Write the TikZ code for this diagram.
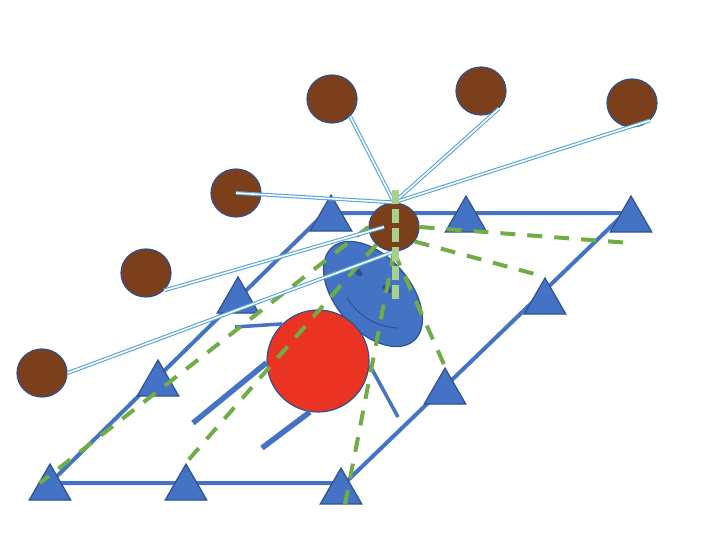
\documentclass[tikz,border=0pt]{standalone}
\usetikzlibrary{shapes.geometric}
\definecolor{brownball}{HTML}{7B3F1C}
\definecolor{officeblue}{HTML}{4472C4}
\definecolor{darkblue}{HTML}{2F528F}
\definecolor{bodyred}{HTML}{EB3323}
\definecolor{dashgreen}{HTML}{70AD47}
\definecolor{palegreen}{HTML}{A9D18E}
\definecolor{wireblue}{HTML}{56A5DD}
\begin{document}
\begin{tikzpicture}
	[x=1pt,y=-1pt,
	tri/.style={regular polygon,regular polygon sides=3,minimum size=48pt,inner sep=0pt,fill=officeblue,draw=darkblue,line width=1.2pt},
	ball/.style={ellipse,minimum width=50pt,minimum height=48pt,inner sep=0pt,fill=brownball,draw=darkblue,line width=1.2pt},
	eye/.style={ellipse,minimum width=11pt,minimum height=6pt,inner sep=0pt,fill=darkblue,rotate=-40},
	edgeline/.style={officeblue,line width=4pt},
	limb/.style={officeblue,line width=5.5pt},
	thinlimb/.style={officeblue,line width=3.5pt},
	trail/.style={dashgreen,line width=4pt,dash pattern=on 15pt off 12pt},
	stake/.style={palegreen,line width=7pt,dash pattern=on 14pt off 5pt},
	wire/.style={draw=wireblue,double=white,double distance=1.6pt,line width=1.1pt}]
	\useasboundingbox (0,0) rectangle (706,538);
	\coordinate (bl) at (50,483);
	\coordinate (br) at (345,483);
	\coordinate (tr) at (625,213);
	\coordinate (tl) at (325,213);
	\draw[edgeline] (bl) -- (br) -- (tr) -- (tl) -- cycle;
	\node[tri] (t1) at (50,488) {};
	\node[tri] (t2) at (186,488) {};
	\node[tri] (t3) at (341,492) {};
	\node[tri] (t4) at (158,384) {};
	\node[tri] (t5) at (238,301) {};
	\node[tri] (t6) at (331,219) {};
	\node[tri] (t7) at (466,220) {};
	\node[tri] (t8) at (631,220) {};
	\node[tri] (t9) at (545,302) {};
	\node[tri] (t10) at (445,392) {};
	\node[ball] (b1) at (332,99) {};
	\node[ball] (b2) at (481,91) {};
	\node[ball] (b3) at (632,103) {};
	\node[ball] (b4) at (236,193) {};
	\node[ball] (b5) at (146,273) {};
	\node[ball] (b6) at (42,373) {};
	\node[ball] (hub) at (394,227) {};
	\node[ellipse,minimum width=124pt,minimum height=74pt,inner sep=0pt,rotate=-48.7,fill=officeblue,draw=darkblue,line width=1.2pt] (face) at (373,294) {};
	\node[eye] (eye1) at (358,272) {};
	\node[eye] (eye2) at (387,289) {};
	\draw[darkblue,line width=1pt] (347,298) .. controls (360,318) and (378,327) .. (398,328);
	\node[circle,minimum size=102pt,inner sep=0pt,fill=bodyred,draw=darkblue,line width=1.2pt] (body) at (318,361) {};
	\coordinate (hand1) at (193,423);
	\coordinate (foot1) at (262,448);
	\coordinate (hand2) at (235,327);
	\coordinate (foot2) at (398,417);
	\draw[limb] (body.182) -- (hand1);
	\draw[limb] (body.261) -- (foot1);
	\draw[thinlimb] (body.134) -- (hand2);
	\draw[thinlimb] (body.356) -- (foot2);
	\coordinate (g1) at (630,243);
	\coordinate (g2) at (343,515);
	\coordinate (g3) at (40,483);
	\draw[trail] (hub.east) -- (g1);
	\draw[trail] (hub.-35) -- (t9.corner 1);
	\draw[trail] (hub.south) -- (t10.corner 1);
	\draw[trail] (hub.south) -- (g2);
	\draw[trail] (hub.225) -- (t2.corner 1);
	\draw[trail] (hub.west) -- (g3);
	\draw[wire] (hub.north) -- (b1.south east);
	\draw[wire] (hub.north) -- (b2.south east);
	\draw[wire] (hub.north) -- (b3.south east);
	\draw[wire] (hub.north) -- (b4.center);
	\draw[wire] ([xshift=-10pt]hub.center) -- (b5.south east);
	\draw[wire] (hub.south) -- (b6.east);
	\coordinate (stop) at (395,190);
	\coordinate (sbot) at (395,300);
	\draw[stake] (stop) -- (sbot);
\end{tikzpicture}
\end{document}
